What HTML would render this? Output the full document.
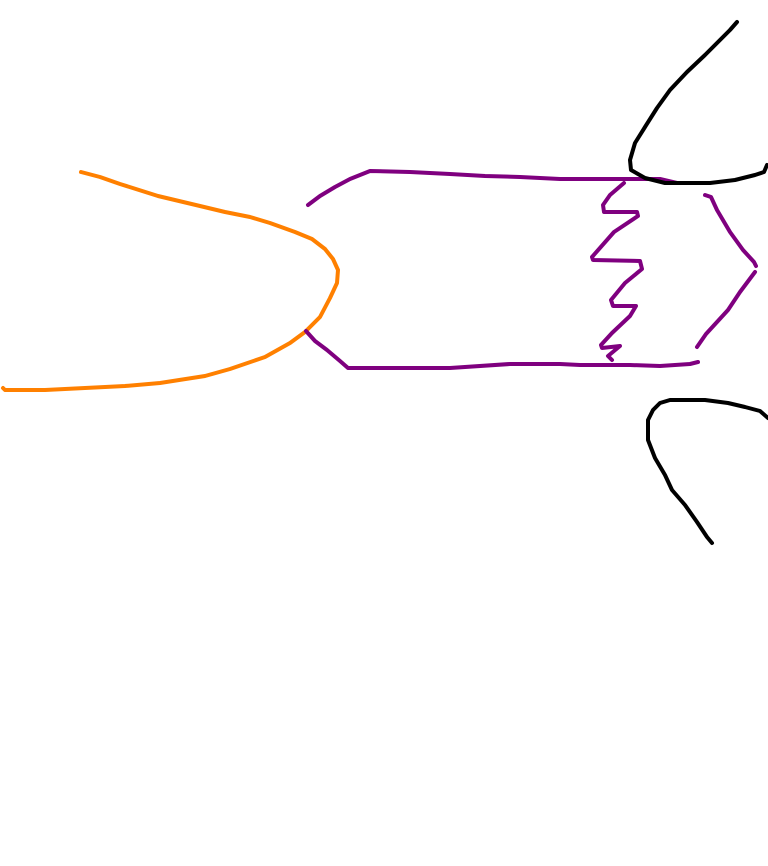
<!DOCTYPE html>
<html><head><meta charset="utf-8"><style>html,body{margin:0;padding:0;background:#fff;}svg{display:block}</style></head>
<body>
<svg width="768" height="866" viewBox="0 0 768 866" xmlns="http://www.w3.org/2000/svg">
<g fill="none" stroke-width="4" stroke-linecap="round" stroke-linejoin="round">
<polyline stroke="#ff8000" points="81,172 100,177 120,184 158,196 200,206 225,212 250,217 270,223 295,232 312,239 325,249 333,259 338,270 337,283 330,298 320,317 305,332 290,343 265,357 230,369 205,376 160,383 125,386 85,388 45,390 5,390 3,388"/>
<polyline stroke="#7f007f" points="308,205 320,196 335,187 350,179 370,171 410,172 450,174 485,176 520,177 560,179 620,179 660,179 677,183"/>
<polyline stroke="#7f007f" points="306,331 315,341 327,350 340,361 348,368 352,368 450,368 510,364 560,364 580,365 630,365 660,366 690,364 698,362"/>
<polyline stroke="#7f007f" points="624,183 610,195 603,205 604,212 637,212 638,216 614,232 592,257 593,260 640,261 642,269 625,283 611,300 613,306 636,306 630,316 612,333 601,345 602,348 620,346 608,356 612,360"/>
<polyline stroke="#7f007f" points="705,195 711,197 717,210 730,232 743,250 754,262 756,266"/>
<polyline stroke="#7f007f" points="755,272 740,292 728,310 706,334 697,347"/>
<polyline stroke="#000" points="737,22 730,30 720,40 705,55 687,72 670,90 657,108 645,127 635,143 630,160 631,170 645,178 665,183 710,183 735,180 755,175 764,172 767,165"/>
<polyline stroke="#000" points="768,418 760,411 745,407 728,403 705,400 670,400 660,403 653,410 648,420 648,440 655,458 665,475 672,490 685,505 697,522 707,537 712,543"/>
</g>
</svg>
</body></html>
